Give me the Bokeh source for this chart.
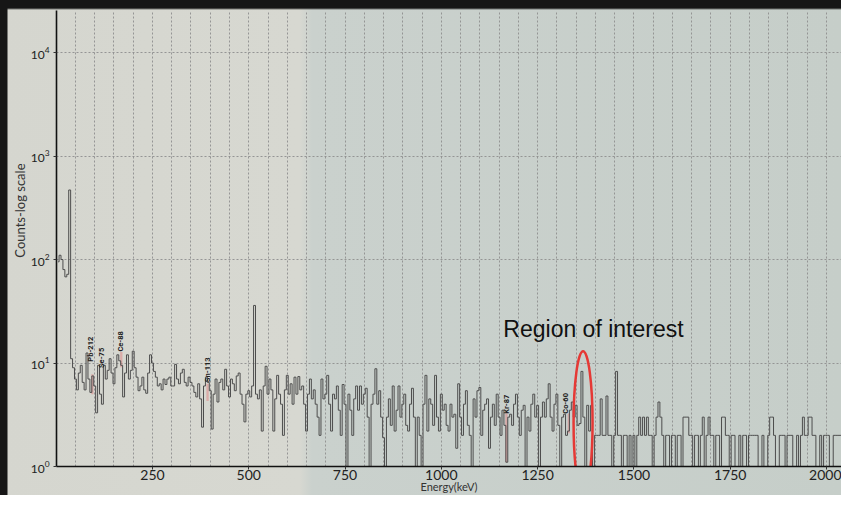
import math
from bokeh.plotting import figure
from bokeh.models import FixedTicker, Label, Range1d, Title
from bokeh.embed import file_html
from bokeh.resources import INLINE
from bokeh.core.properties import value

# ---- spectrum: counts per 5 keV channel, starting at 5 keV ----
kev_start = 5.0
kev_per_channel = 5.0

counts_005_100 = [95, 110, 100, 80, 68, 72, 470, 11, 9, 7, 5.5, 8, 9.5, 6.5, 5.5, 12.5, 7, 5.2, 7.5, 6]
counts_105_200 = [3.3, 9.5, 5, 4, 9.5, 7, 8.5, 11, 8, 6.3, 9, 12, 10.5, 9.5, 4.7, 8, 12, 7, 8.5, 13]
counts_205_300 = [9, 7.3, 5.4, 6, 7.3, 5.5, 5.1, 8, 12, 10, 8.3, 7.3, 6, 6.3, 5.5, 7, 6.2, 7, 7.3, 6]
counts_305_400 = [6, 9.7, 7, 6.3, 8, 8.7, 6.5, 6, 7.3, 6.5, 6, 5.2, 4.7, 6.3, 4.5, 2.4, 6, 7.3, 6.5, 5.4]
counts_405_500 = [2.3, 5, 7, 4.2, 6.5, 7, 5.5, 8.7, 6, 4.7, 7, 6.3, 5.4, 7.5, 8, 5, 4, 2.7, 5, 5.4]
counts_505_600 = [4.7, 6, 36, 5, 4.5, 5.5, 2.2, 6, 9.3, 5, 7, 5.5, 2.2, 4.5, 7.6, 5, 4, 2, 5.5, 7.6]
counts_605_700 = [5, 6.3, 4, 7.3, 5, 7.4, 5.5, 6, 4, 2.2, 5, 7, 4.5, 5.5, 4, 3, 2, 7, 4.5, 5]
counts_705_800 = [7.6, 4, 2.2, 5, 4.5, 6, 3.5, 2, 6.2, 4, 1, 5, 3.5, 2, 4.5, 6, 3.5, 6, 4, 5]
counts_805_900 = [5.7, 3, 1, 4, 5, 8.8, 4, 5.4, 3, 1.9, 1, 3, 4.5, 2.5, 6, 2.2, 3.5, 6, 3, 4]
counts_905_1000 = [5, 2.5, 2.2, 4, 5.7, 3, 1, 3, 2, 1, 4, 7.6, 2.2, 4.5, 4, 2.5, 7.6, 3, 2.2, 5]
counts_1005_1100 = [3.5, 4, 2.5, 2.2, 4, 3, 3.2, 1.5, 6.3, 3, 2, 4, 5.4, 2.5, 2, 1, 4.5, 3, 5.4, 5.8]
counts_1105_1200 = [2, 3.5, 4, 4.5, 1.5, 3, 4, 2.5, 5, 3, 2, 3.5, 2.5, 1.1, 3, 3.2, 2.5, 4, 5, 3]
counts_1205_1300 = [2, 3.5, 3.9, 1, 3, 2.2, 4, 5, 3, 3.9, 1, 3, 4.2, 3, 4.5, 6.3, 3, 2.2, 4, 5]
counts_1305_1400 = [2.5, 1, 3, 3.2, 2, 2.2, 3.5, 4.2, 3, 3.9, 2.5, 2.6, 8.3, 3, 1, 3.9, 2.2, 3.9, 1, 2]
counts_1405_1500 = [2, 2, 4.5, 2, 2, 4.8, 2, 2, 1, 2, 8.3, 2, 2, 1, 2, 2, 1, 2, 1, 2]
counts_1505_1600 = [1, 2, 3, 2, 3, 2, 3, 2, 2, 1, 2, 3, 4.2, 3, 2, 1, 2, 2, 1, 2]
counts_1605_1700 = [2, 1, 2, 2, 1, 3, 3, 3, 2, 2, 1, 2, 2, 1, 2, 3, 1, 2, 3, 2]
counts_1705_1800 = [2, 1, 2, 2, 1, 3, 3, 2, 2, 1, 2, 2, 1, 1, 2, 1, 2, 2, 1, 2]
counts_1805_1900 = [2, 2, 2, 2, 1, 1, 2, 1, 1, 2, 3, 3, 2, 1, 1, 2, 2, 2, 1, 2]
counts_1905_2000 = [2, 2, 1, 1, 2, 1, 2, 3, 2, 2, 3, 3, 2, 2, 1, 1, 2, 1, 2, 2]
counts_2005_2040 = [2, 1, 1, 2, 2, 2, 2, 2]

counts = (counts_005_100 + counts_105_200 + counts_205_300 + counts_305_400 +
          counts_405_500 + counts_505_600 + counts_605_700 + counts_705_800 +
          counts_805_900 + counts_905_1000 + counts_1005_1100 + counts_1105_1200 +
          counts_1205_1300 + counts_1305_1400 + counts_1405_1500 + counts_1505_1600 +
          counts_1605_1700 + counts_1705_1800 + counts_1805_1900 + counts_1905_2000 +
          counts_2005_2040)
energy = [kev_start + kev_per_channel * i for i in range(len(counts))]

# ---- nuclide labels ----
label_text = ["Pb-212", "Se-75", "Ce-88", "Sn-113", "Kr-87", "Co-60"]
label_energy = [89, 117, 168, 392, 1169, 1322]
label_counts = [13.6, 11.2, 16.2, 8.6, 4.0, 4.07]

# ---- highlighted peak regions ----
roi_energy = [94, 169, 393, 1169, 1331]
roi_low = [5.0, 9.1, 4.3, 1.1, 2.1]
roi_high = [7.8, 12.8, 6.3, 3.25, 3.25]

x_ticks = [250, 500, 750, 1000, 1250, 1500, 1750, 2000]
grid_ticks = list(range(50, 2001, 50))

p = figure(width=841, height=495, y_axis_type="log",
           x_range=Range1d(0.8, 2039), y_range=Range1d(1, 25500),
           output_backend="svg", toolbar_location=None,
           min_border_left=56, min_border_right=0,
           min_border_top=10, min_border_bottom=28)

# photographed paper: darker edge at top/left, lighter left half, grey-blue right half
p.styles = {"background": (
    "linear-gradient(to right, #161616 0px, #161616 7px, rgba(0,0,0,0) 8px), "
    "linear-gradient(to bottom, #161616 0px, #161616 8px, rgba(0,0,0,0) 10px), "
    "linear-gradient(to right, #d5d6cf 0px, #d7d8d1 300px, #cad1cd 312px, #c6cec9 841px)")}
p.border_fill_color = None
p.background_fill_color = None
p.outline_line_color = None

# grids
p.xgrid.ticker = FixedTicker(ticks=grid_ticks)
p.grid.grid_line_color = "#8e8e8e"
p.grid.grid_line_dash = "2 2"
p.grid.grid_line_width = 1
p.grid.grid_line_alpha = 0.9

# axes
p.xaxis.ticker = FixedTicker(ticks=x_ticks)
for ax in (p.xaxis, p.yaxis):
    ax.axis_line_color = "#111111"
    ax.axis_line_width = 1.6
    ax.major_tick_line_color = "#333333"
    ax.minor_tick_line_color = None
    ax.major_tick_in = 0
    ax.major_label_text_color = "#222222"
    ax.major_label_text_font = "Lato"
p.xaxis.major_tick_out = 3
p.xaxis.major_label_standoff = 0
p.xaxis.major_label_text_font_size = "14px"
p.yaxis.major_tick_out = 3
p.yaxis.major_label_standoff = 3
p.yaxis.major_label_text_font_size = "12px"

p.xaxis.axis_label = "Energy(keV)"
p.xaxis.axis_label_standoff = -3
p.xaxis.axis_label_text_font = "Lato"
p.xaxis.axis_label_text_font_size = "11px"
p.xaxis.axis_label_text_font_style = "normal"
p.xaxis.axis_label_text_color = "#333333"

p.add_layout(Title(text="Counts-log scale", align="right", offset=153,
                   standoff=0, text_font="Lato", text_font_size="13px",
                   text_font_style="normal", text_color="#333333"), "left")

# highlighted regions
p.vbar(x=roi_energy, width=6, bottom=roi_low, top=roi_high,
       fill_color="#e08080", fill_alpha=0.5, line_color=None)

# spectrum
p.step(energy, counts, mode="center", line_color="#4d4d4d", line_width=1)

# nuclide labels
p.text(x=label_energy, y=label_counts, text=label_text, angle=math.pi / 2,
       text_align="center", text_baseline="middle",
       text_font=value("Roboto"), text_font_style="bold",
       text_font_size="7.5px", text_color="#222222")

# region of interest
p.ellipse(x=[1368], y=[2.64], width=19, height=143,
          width_units="screen", height_units="screen",
          fill_color=None, line_color="#e53935", line_width=2.5)
p.add_layout(Label(x=1161, y=21.2, text="Region of interest",
                   text_font="Liberation Sans", text_font_size="23px",
                   text_color="#111111", text_baseline="alphabetic"))

open("out.html", "w").write(file_html(p, INLINE))
